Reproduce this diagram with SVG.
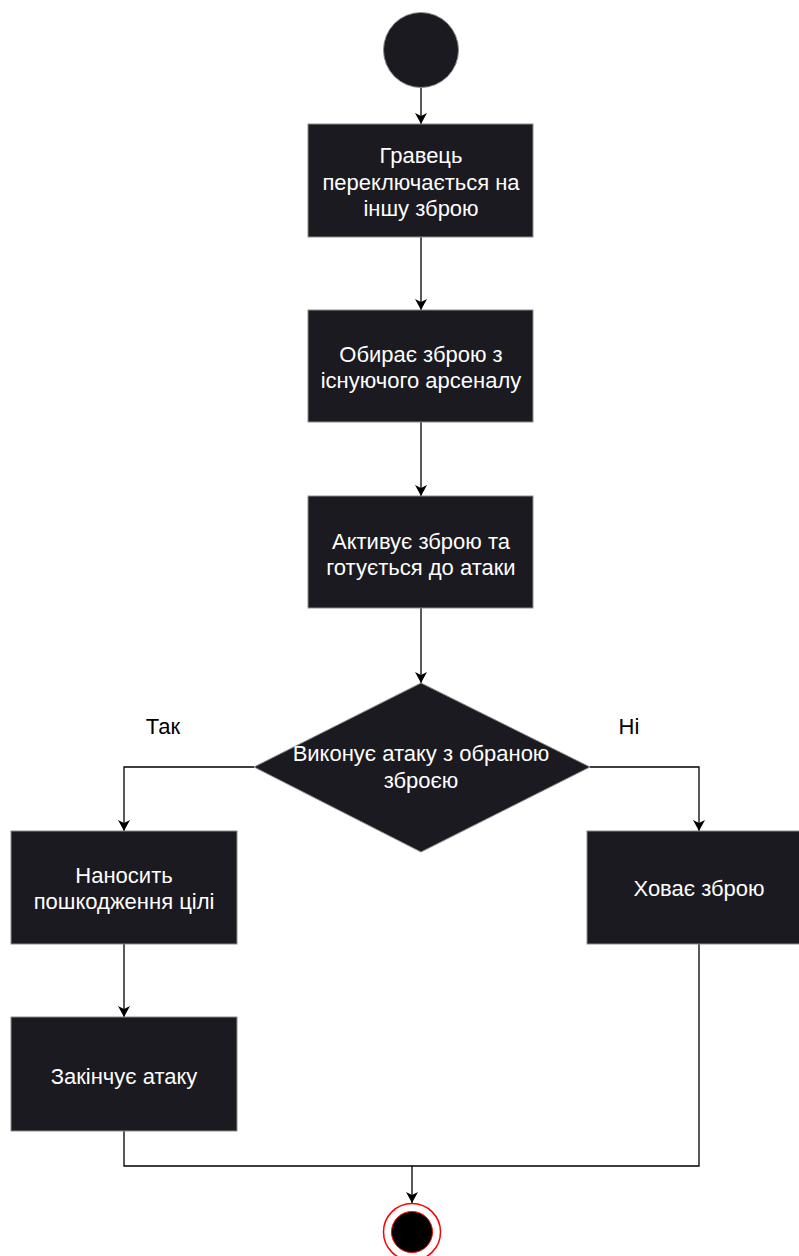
<svg xmlns="http://www.w3.org/2000/svg" width="799" height="1256" viewBox="0 0 799 1256">
<style>
.node{fill:#1b1a20;stroke:#8c8c8c;stroke-width:1}
.t{fill:#ffffff;font-family:"Liberation Sans",Arial,sans-serif;font-size:22px;text-anchor:middle}
.lbl{fill:#000000;font-family:"Liberation Sans",Arial,sans-serif;font-size:22px;text-anchor:middle}
.edge{fill:none;stroke:#000000;stroke-width:1.3}
</style>
<defs>
<marker id="arr" markerWidth="12" markerHeight="14" refX="11" refY="6" orient="auto" markerUnits="userSpaceOnUse">
<path d="M0,0 L11,6 L0,12 L3,6 Z" fill="#000"/>
</marker>
</defs>
<rect width="799" height="1256" fill="#ffffff"/>
<g id="edges">
<path class="edge" d="M421,88 V124" marker-end="url(#arr)"/>
<path class="edge" d="M421,237 V310" marker-end="url(#arr)"/>
<path class="edge" d="M421,422 V496" marker-end="url(#arr)"/>
<path class="edge" d="M421,608 V683" marker-end="url(#arr)"/>
<path class="edge" d="M254,767 H124 V831" marker-end="url(#arr)"/>
<path class="edge" d="M590,767 H699 V831" marker-end="url(#arr)"/>
<path class="edge" d="M124,944 V1017" marker-end="url(#arr)"/>
<path class="edge" d="M124,1131 V1166 H412 V1203" marker-end="url(#arr)"/>
<path class="edge" d="M699,944 V1166 H412"/>
<text class="lbl" x="163" y="734">Так</text>
<text class="lbl" x="629" y="734">Ні</text>
</g>
<g id="start">
<circle class="node" cx="421" cy="50" r="37.5"/>
</g>
<g id="n1">
<rect class="node" x="308" y="124" width="225" height="113"/>
<text class="t" x="421" y="163">Гравець</text>
<text class="t" x="421" y="189.5">переключається на</text>
<text class="t" x="421" y="216">іншу зброю</text>
</g>
<g id="n2">
<rect class="node" x="308" y="310" width="225" height="112"/>
<text class="t" x="421" y="362">Обирає зброю з</text>
<text class="t" x="421" y="388">існуючого арсеналу</text>
</g>
<g id="n3">
<rect class="node" x="308" y="496" width="225" height="112"/>
<text class="t" x="421" y="549">Активує зброю та</text>
<text class="t" x="421" y="575">готується до атаки</text>
</g>
<g id="decision">
<polygon class="node" points="421,683 590,767 421,852 254,767"/>
<text class="t" x="421" y="761">Виконує атаку з обраною</text>
<text class="t" x="421" y="788">зброєю</text>
</g>
<g id="n4">
<rect class="node" x="11" y="831" width="226" height="113"/>
<text class="t" x="124" y="883">Наносить</text>
<text class="t" x="124" y="909">пошкодження цілі</text>
</g>
<g id="n5">
<rect class="node" x="11" y="1017" width="226" height="114"/>
<text class="t" x="124" y="1084">Закінчує атаку</text>
</g>
<g id="n6">
<rect class="node" x="587" y="831" width="224" height="113"/>
<text class="t" x="699" y="896">Ховає зброю</text>
</g>
<g id="end">
<circle cx="412" cy="1232" r="28.5" fill="#ffffff" stroke="#ff0000" stroke-width="1.5"/>
<circle cx="412" cy="1232" r="20.5" fill="#000000" stroke="#ff0000" stroke-width="1"/>
</g>
</svg>
